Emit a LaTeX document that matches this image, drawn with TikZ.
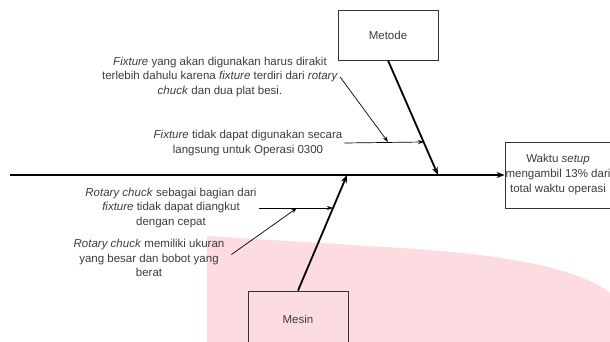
\documentclass[tikz,border=0pt]{standalone}
\usepackage{fontspec}
\setmainfont{Liberation Sans}
\usetikzlibrary{arrows.meta}
\definecolor{watermark}{RGB}{252,220,224}
\definecolor{ink}{RGB}{60,60,60}

\begin{document}
\begin{tikzpicture}[x=1pt, y=-1pt,
    box/.style = {draw=black!80, line width=0.8pt, minimum width=100pt, minimum height=50pt, inner sep=0pt, font=\fontsize{11.5}{15}\selectfont, text=ink},
    note/.style = {align=center, inner sep=2pt, font=\fontsize{11.5}{14.5}\selectfont, text=ink},
    bone/.style = {line width=1.8pt, -{Stealth[length=8pt, width=6pt]}},
    twig/.style = {line width=0.7pt, -{Stealth[length=6pt, width=4pt]}}]
\useasboundingbox (0,0) rectangle (610,342);
% background watermark
\fill[watermark] (207,236) -- (400,248) .. controls (520,255) and (585,272) .. (610,293) -- (610,342) -- (207,342) -- cycle;

    \node[box] (metode) at (388,35) {Metode};
    \node[box, minimum height=56pt] (mesin) at (298,319) {Mesin};
    \node[box, minimum width=106pt, minimum height=66pt, align=center] (akibat) at (558,175) {Waktu \textit{setup}\\mengambil 13\% dari\\total waktu operasi};

    \node[note] (n1) at (220,77) {\textit{Fixture} yang akan digunakan harus dirakit\\terlebih dahulu karena \textit{fixture} terdiri dari \textit{rotary}\\\textit{chuck} dan dua plat besi.};
    \node[note] (n2) at (248,143) {\textit{Fixture} tidak dapat digunakan secara\\langsung untuk Operasi 0300};
    \node[note] (n3) at (171,208) {\textit{Rotary chuck} sebagai bagian dari\\\textit{fixture} tidak dapat diangkut\\dengan cepat};
    \node[note] (n4) at (149,258) {\textit{Rotary chuck} memiliki ukuran\\yang besar dan bobot yang\\berat};

    \coordinate (ekor) at (10,175);
    \coordinate (m1) at (438,175);
    \coordinate (m2) at (347,175);
    \coordinate (t1) at (424,142);
    \coordinate (t2) at (333,208);
    \coordinate (t3) at (388,142);
    \coordinate (t4) at (297,208);

\draw[bone, line width=2.5pt] (ekor) -- (akibat);
\draw[bone] (metode.south) -- (m1);
\draw[bone] (mesin.north) -- (m2);
\draw[twig] (n2.east) -- (t1);
\draw[twig] (n1.east) -- (t3);
\draw[twig] (n3.east) -- (t2);
\draw[twig, shorten <=6pt] (n4.east) -- (t4);

\end{tikzpicture}
\end{document}
